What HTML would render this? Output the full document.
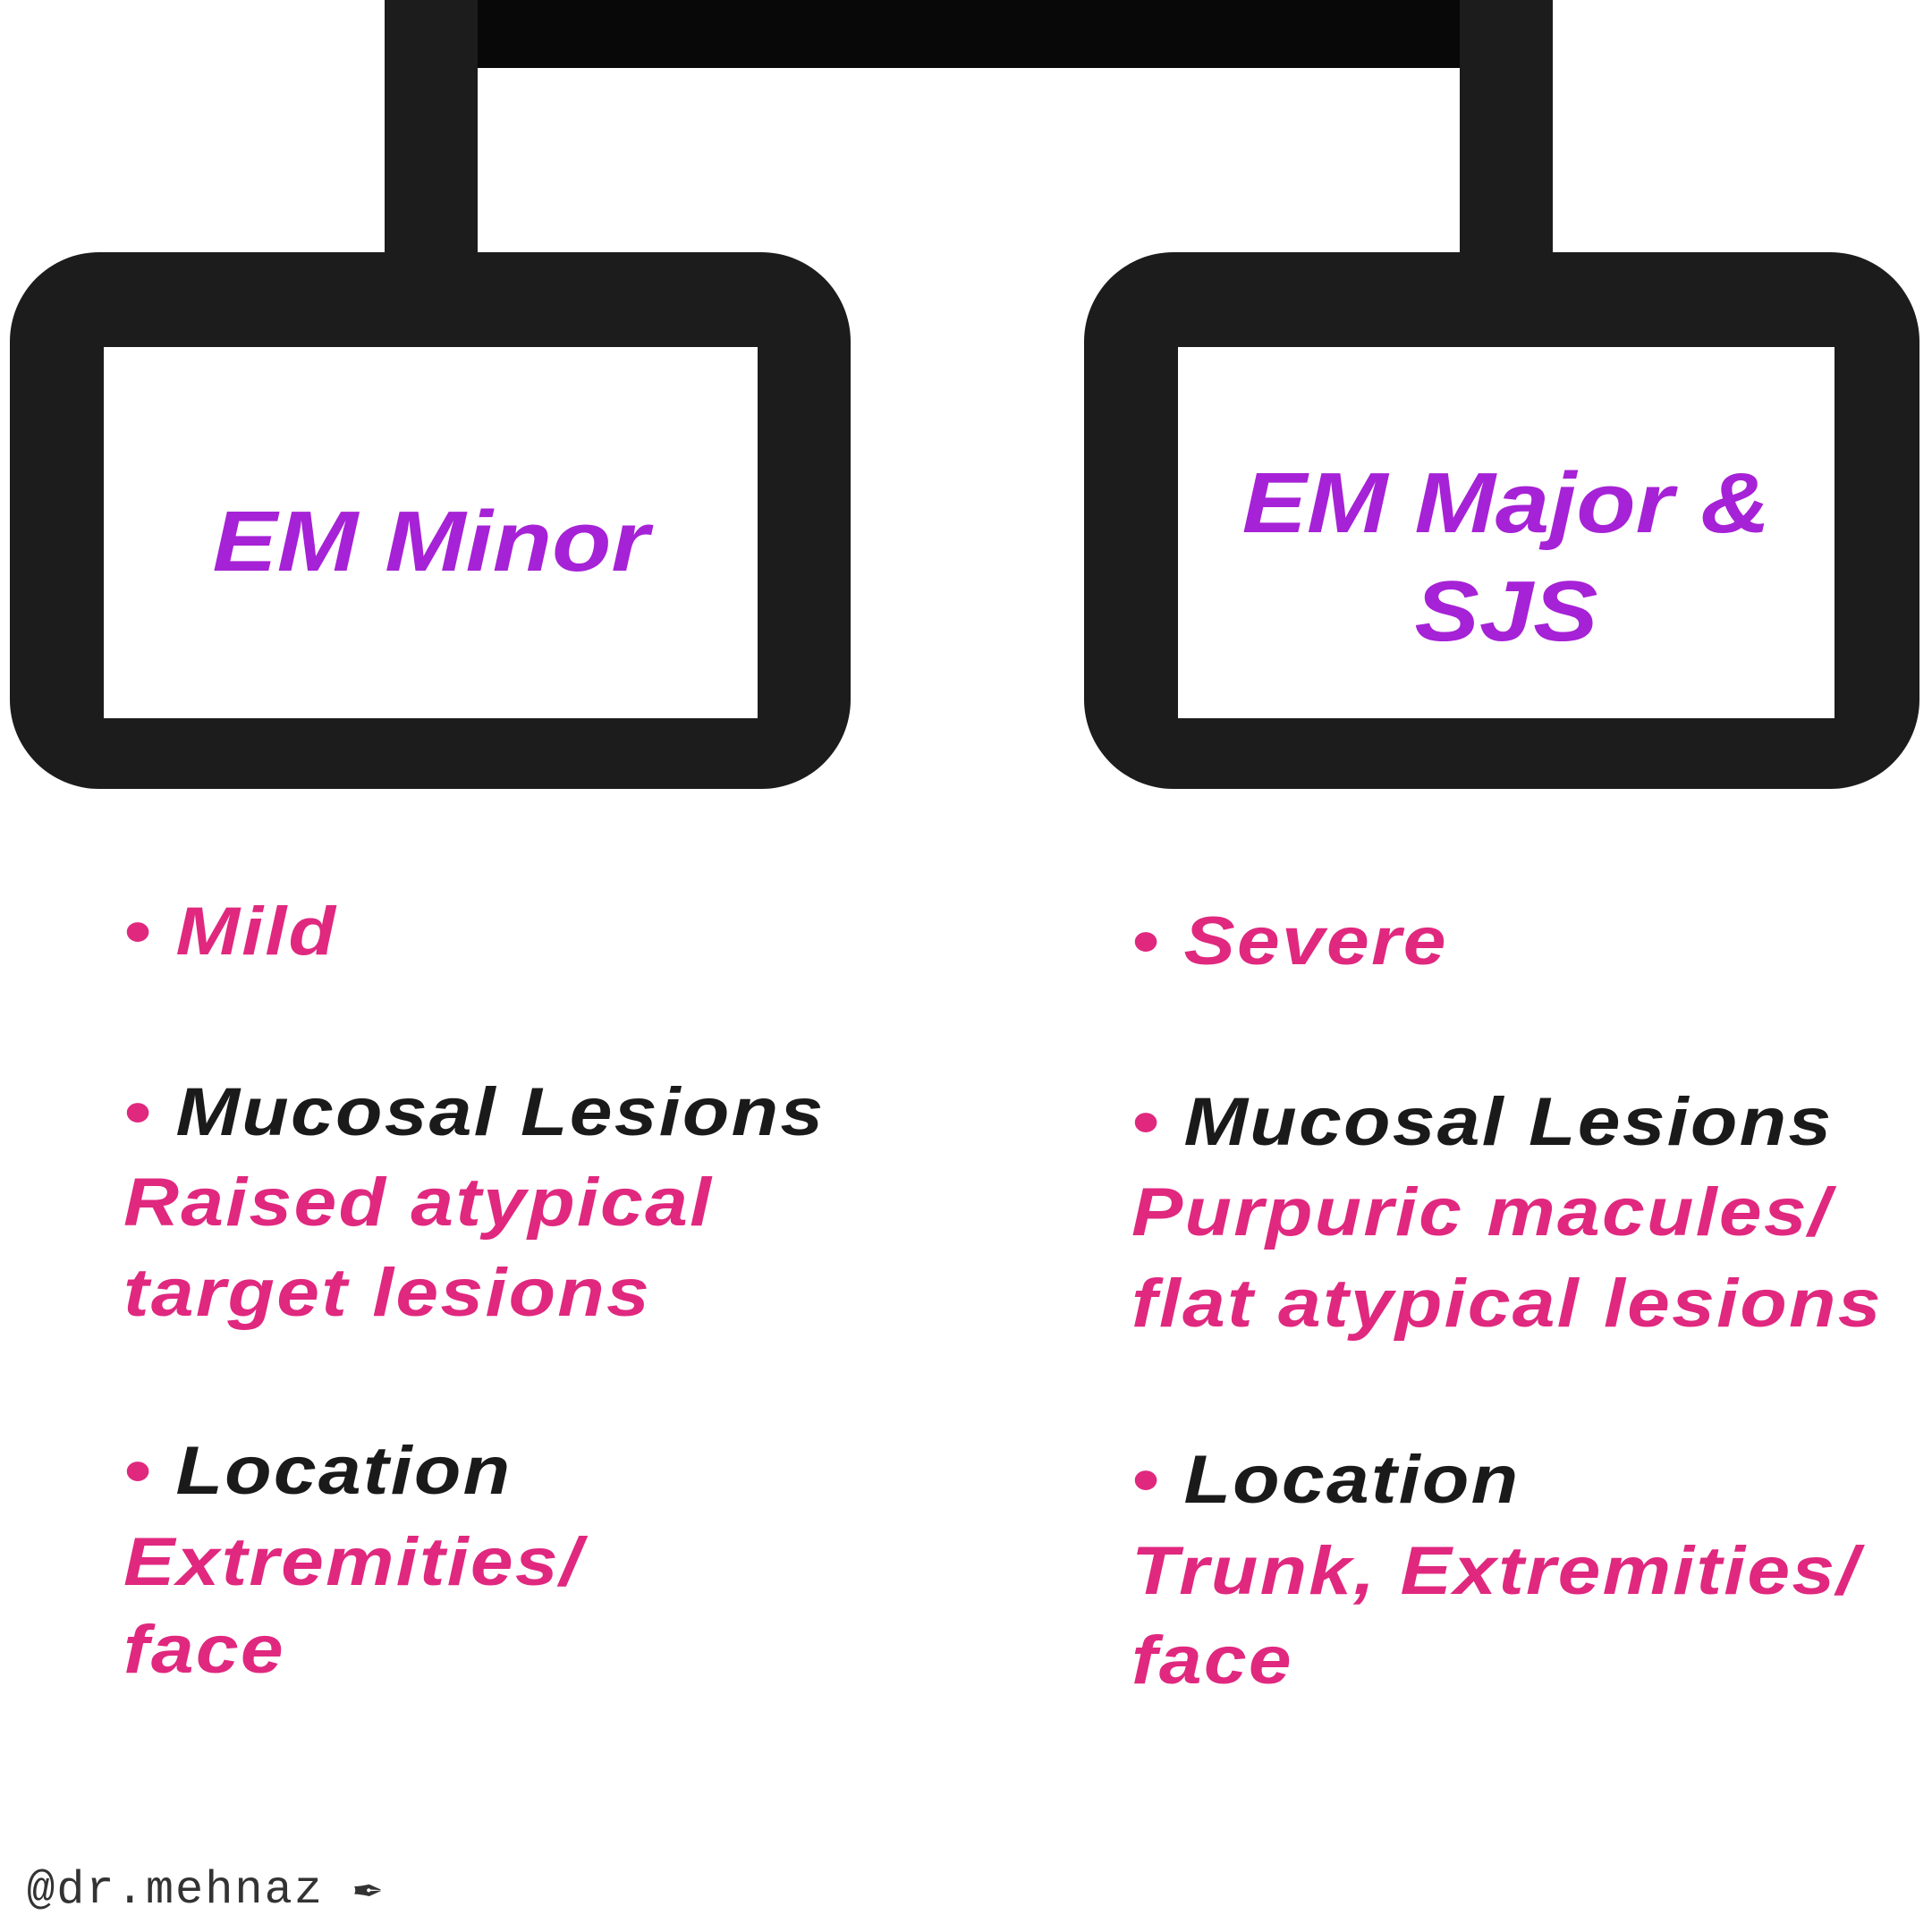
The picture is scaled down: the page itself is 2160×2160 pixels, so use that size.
<!DOCTYPE html>
<html><head><meta charset="utf-8"><style>
html,body{margin:0;padding:0;background:#fff;}
body{width:2160px;height:2160px;position:relative;overflow:hidden;font-family:"Liberation Sans",sans-serif;}
.b{position:absolute;background:#1c1c1c;}
.t{position:absolute;font-weight:bold;font-style:italic;white-space:nowrap;line-height:1;letter-spacing:2px;transform:scaleX(1.13);transform-origin:0 0;}
.p{color:#e0287f;font-size:76px;}
.k{color:#1a1a1a;font-size:76px;}
.h{color:#a622d6;font-size:96px;letter-spacing:0;transform-origin:50% 0;}
</style></head><body>
<div class="b" style="left:430px;top:0;width:1306px;height:76px;background:#080808"></div>
<div class="b" style="left:430px;top:0;width:104px;height:300px"></div>
<div class="b" style="left:1632px;top:0;width:104px;height:300px"></div>
<div class="b" style="left:11px;top:282px;width:940px;height:600px;border-radius:100px"></div>
<div style="position:absolute;left:116px;top:388px;width:731px;height:415px;background:#fff"></div>
<div class="b" style="left:1212px;top:282px;width:934px;height:600px;border-radius:100px"></div>
<div style="position:absolute;left:1317px;top:388px;width:734px;height:415px;background:#fff"></div>
<div class="t h" style="left:116px;width:731px;text-align:center;top:558px">EM Minor</div>
<div class="t h" style="left:1317px;width:734px;text-align:center;top:515px">EM Major &amp;</div>
<div class="t h" style="left:1317px;width:734px;text-align:center;top:636px">SJS</div>

<div class="t p" style="left:138px;top:1004px">• Mild</div>
<div class="t k" style="left:138px;top:1206px"><span style="color:#e0287f">•</span> Mucosal Lesions</div>
<div class="t p" style="left:138px;top:1307px">Raised atypical</div>
<div class="t p" style="left:138px;top:1408px">target lesions</div>
<div class="t k" style="left:138px;top:1607px"><span style="color:#e0287f">•</span> Location</div>
<div class="t p" style="left:138px;top:1709px">Extremities/</div>
<div class="t p" style="left:138px;top:1807px">face</div>

<div class="t p" style="left:1265px;top:1015px">• Severe</div>
<div class="t k" style="left:1265px;top:1217px"><span style="color:#e0287f">•</span> Mucosal Lesions</div>
<div class="t p" style="left:1265px;top:1318px">Purpuric macules/</div>
<div class="t p" style="left:1265px;top:1420px">flat atypical lesions</div>
<div class="t k" style="left:1265px;top:1617px"><span style="color:#e0287f">•</span> Location</div>
<div class="t p" style="left:1265px;top:1719px">Trunk, Extremities/</div>
<div class="t p" style="left:1265px;top:1819px">face</div>

<div style="position:absolute;left:30px;top:2080px;font-family:'Liberation Mono',monospace;font-size:52px;color:#333;letter-spacing:2px">@dr.mehnaz ✒</div>
</body></html>
